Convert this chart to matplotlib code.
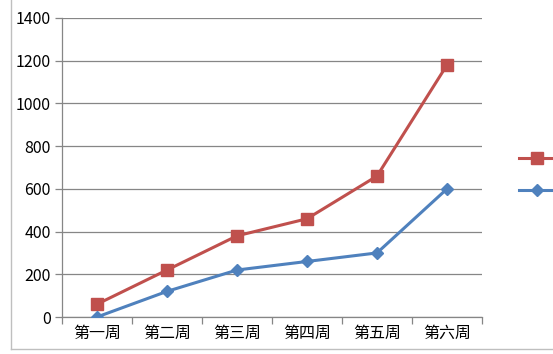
import numpy as np
import matplotlib.pyplot as plt
from matplotlib.lines import Line2D

plt.rcParams['font.family'] = ['Noto Sans CJK SC', 'DejaVu Sans']

weeks = ['第一周', '第二周', '第三周', '第四周', '第五周', '第六周']
red_vals = [60, 220, 380, 460, 660, 1180]
blue_vals = [0, 120, 220, 260, 300, 600]
y_ticks = [0, 200, 400, 600, 800, 1000, 1200, 1400]

red = '#C0504D'
blue = '#4F81BD'
grey = '#868686'

fig = plt.figure(figsize=(5.53, 3.54), dpi=100)
ax = fig.add_axes([62 / 553, 37 / 354, 420 / 553, 299 / 354])

x = np.arange(len(weeks))
ax.plot(x, red_vals, color=red, lw=2.2, marker='s', ms=8.5, zorder=3)
ax.plot(x, blue_vals, color=blue, lw=2.2, marker='D', ms=6.5, zorder=3)

ax.set_xlim(-0.5, len(weeks) - 0.5)
ax.set_ylim(0, 1400)
ax.set_yticks(y_ticks)
ax.set_yticklabels([str(v) for v in y_ticks], fontsize=11.5)
ax.yaxis.grid(True, color=grey, lw=0.9)
ax.set_axisbelow(True)

ax.set_xticks(x)
ax.set_xticklabels(weeks, fontsize=11.5)
ax.set_xticks(np.arange(-0.5, len(weeks)), minor=True)
ax.tick_params(axis='x', which='major', length=0, pad=6)
ax.tick_params(axis='x', which='minor', length=5, color=grey, width=0.9)
ax.tick_params(axis='y', length=5, color=grey, width=0.9, pad=3)

for s in ['top', 'right']:
    ax.spines[s].set_visible(False)
for s in ['left', 'bottom']:
    ax.spines[s].set_color(grey)
    ax.spines[s].set_linewidth(0.9)

# legend keys, labels cut off by the frame edge
handles = [Line2D([], [], color=red, lw=2.2, marker='s', ms=8.5),
           Line2D([], [], color=blue, lw=2.2, marker='D', ms=6.5)]
fig.legend(handles, ['', ''], loc='upper left', bbox_to_anchor=(512 / 553, 1 - 145 / 354),
           frameon=False, handlelength=2.6, labelspacing=1.3, borderpad=0, handletextpad=0)

# chart frame edges seen in the screenshot
fig.add_artist(Line2D([11 / 553, 11 / 553], [5 / 354, 1], color='#BFBFBF', lw=1))
fig.add_artist(Line2D([11 / 553, 1], [5 / 354, 5 / 354], color='#BFBFBF', lw=1))

fig.savefig('out.png', dpi=100)
